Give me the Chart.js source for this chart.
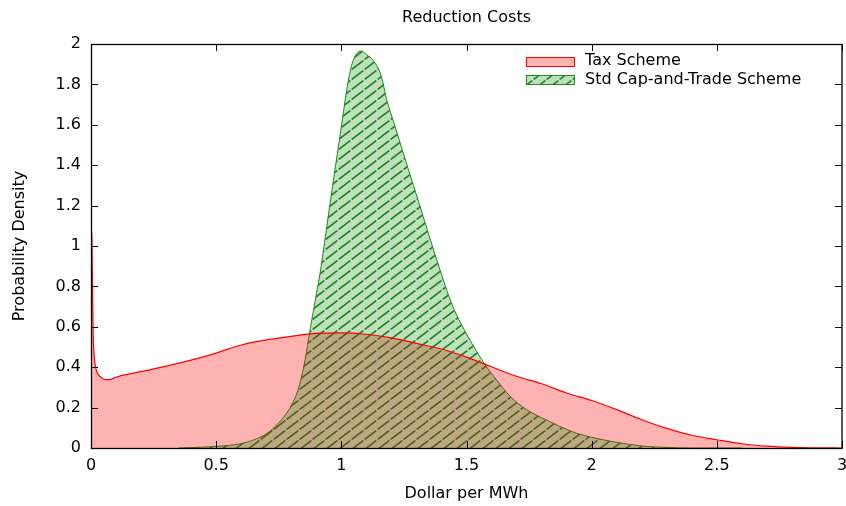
<!DOCTYPE html>
<html>
<head>
<meta charset="utf-8">
<script src="https://cdn.jsdelivr.net/npm/chart.js@4.4.1/dist/chart.umd.min.js"></script>
<style>
  html, body { margin: 0; padding: 0; background: #fff; }
  #wrap { width: 846px; height: 506px; }
</style>
</head>
<body>
<div id="wrap"><canvas id="c" width="846" height="506"></canvas></div>
<script>
// Probability density of reduction cost (dollar per MWh) under each scheme
const taxX = [0, 0.003, 0.006, 0.009, 0.013, 0.02, 0.04, 0.06, 0.08, 0.1, 0.12, 0.2, 0.3, 0.4, 0.5, 0.6, 0.7, 0.8, 0.9, 1.0,
              1.1, 1.2, 1.3, 1.4, 1.5, 1.6, 1.7, 1.8, 1.9, 2.0, 2.1, 2.2, 2.3, 2.4, 2.5, 2.6, 2.7, 2.8, 2.9, 3.0];
const taxY = [1.08, 1.06, 0.8, 0.55, 0.45, 0.39, 0.35, 0.338, 0.34, 0.35, 0.358, 0.378, 0.405, 0.435, 0.47, 0.51, 0.535, 0.553, 0.567, 0.57,
              0.563, 0.545, 0.518, 0.49, 0.45, 0.402, 0.355, 0.318, 0.272, 0.235, 0.19, 0.14, 0.097, 0.063, 0.041, 0.021, 0.009, 0.003, 0.001, 0];

const capX = [0.35, 0.4, 0.5, 0.55, 0.6, 0.65, 0.7, 0.75, 0.8, 0.83, 0.855, 0.875, 0.9, 0.915, 0.94, 0.97, 1.0, 1.02, 1.04, 1.06,
              1.08, 1.1, 1.13, 1.16, 1.18, 1.21, 1.24, 1.27, 1.306, 1.336, 1.366, 1.4, 1.43, 1.46, 1.5, 1.53, 1.567, 1.6, 1.62,
              1.674, 1.74, 1.8, 1.834, 1.9, 1.94, 2.0, 2.1, 2.2, 2.3, 2.4, 2.6];
const capY = [0, 0.002, 0.008, 0.013, 0.022, 0.04, 0.07, 0.125, 0.21, 0.3, 0.436, 0.584, 0.76, 0.865, 1.08, 1.34, 1.59, 1.76, 1.89, 1.95,
              1.965, 1.948, 1.915, 1.84, 1.73, 1.61, 1.49, 1.37, 1.23, 1.11, 0.99, 0.86, 0.75, 0.66, 0.565, 0.5, 0.425, 0.368, 0.337,
              0.256, 0.19, 0.15, 0.13, 0.092, 0.073, 0.053, 0.028, 0.01, 0.003, 0, 0];

const seriesLabels = ['Tax Scheme', 'Std Cap-and-Trade Scheme'];
const xRange = [0, 3], xStep = 0.5;
const yRange = [0, 2], yStep = 0.2;

const FONT = 'DejaVu Sans';
const FONT_SIZE = 16;
const TAX_LINE = '#ff0000';
const TAX_FILL = 'rgba(255,0,0,0.3)';
const CAP_LINE = '#228b22';
const CAP_WASH = 'rgba(0,128,0,0.25)';

// Diagonal stripes; withWash adds the translucent green underneath
function makeHatch(withWash) {
  const w = 13, h = 10;
  const c = document.createElement('canvas');
  c.width = w; c.height = h;
  const g = c.getContext('2d');
  if (withWash) {
    g.fillStyle = CAP_WASH;
    g.fillRect(0, 0, w, h);
  }
  g.strokeStyle = CAP_LINE;
  g.lineWidth = 1.6;
  g.beginPath();
  const gap = 0.7;
  g.moveTo(gap, h - gap * h / w);
  g.lineTo(w - gap, gap * h / w);
  g.stroke();
  return g.createPattern(c, 'repeat');
}
const capStripes = makeHatch(false);
const capKey = makeHatch(true);

const pts = (xs, ys) => xs.map((x, i) => ({ x, y: ys[i] }));
const fmt = v => String(Math.round(v * 10) / 10);

// Border box with inward ticks on all four sides
const framePlugin = {
  id: 'frame',
  afterDatasetsDraw(chart) {
    const { ctx, chartArea: { left, right, top, bottom }, scales: { x, y } } = chart;
    const L = 7;
    ctx.save();
    ctx.strokeStyle = '#000';
    ctx.lineWidth = 1;
    ctx.beginPath();
    x.ticks.forEach(t => {
      const p = Math.round(x.getPixelForValue(t.value)) + 0.5;
      ctx.moveTo(p, bottom); ctx.lineTo(p, bottom - L);
      ctx.moveTo(p, top); ctx.lineTo(p, top + L);
    });
    y.ticks.forEach(t => {
      const p = Math.round(y.getPixelForValue(t.value)) + 0.5;
      ctx.moveTo(left, p); ctx.lineTo(left + L, p);
      ctx.moveTo(right, p); ctx.lineTo(right - L, p);
    });
    ctx.stroke();
    ctx.lineWidth = 1.3;
    ctx.strokeRect(Math.round(left) + 0.5, Math.round(top) + 0.5, Math.round(right - left) - 0.5, Math.round(bottom - top));
    ctx.restore();
  }
};

// Key in the upper right of the plot
const keyPlugin = {
  id: 'key',
  afterDraw(chart) {
    const ctx = chart.ctx;
    const items = [
      { label: seriesLabels[0], fill: TAX_FILL, stroke: TAX_LINE },
      { label: seriesLabels[1], fill: capKey, stroke: CAP_LINE }
    ];
    const x0 = 526, bw = 48, bh = 9, textX = 585, yc = [61, 79.5];
    ctx.save();
    ctx.font = FONT_SIZE + 'px "' + FONT + '"';
    ctx.textBaseline = 'middle';
    items.forEach((it, i) => {
      const yTop = Math.round(yc[i] - bh / 2);
      ctx.fillStyle = it.fill;
      ctx.fillRect(x0, yTop, bw, bh);
      ctx.strokeStyle = it.stroke;
      ctx.lineWidth = 1;
      ctx.strokeRect(x0 + 0.5, yTop + 0.5, bw, bh);
      ctx.fillStyle = '#000';
      ctx.fillText(it.label, textX, yc[i]);
    });
    ctx.restore();
  }
};

Chart.defaults.font.family = FONT;
Chart.defaults.font.size = FONT_SIZE;
Chart.defaults.color = '#000';

const common = { pointRadius: 0, cubicInterpolationMode: 'monotone' };

new Chart(document.getElementById('c'), {
  type: 'line',
  data: {
    // index 0 is painted last (on top)
    datasets: [
      Object.assign({ label: seriesLabels[0], data: pts(taxX, taxY), borderColor: TAX_LINE, borderWidth: 1.2, fill: false }, common),
      Object.assign({ label: seriesLabels[1], data: pts(capX, capY), borderColor: 'transparent', borderWidth: 0,
                      backgroundColor: CAP_WASH, fill: 'origin' }, common),
      Object.assign({ label: seriesLabels[0], data: pts(taxX, taxY), borderColor: 'transparent', borderWidth: 0,
                      backgroundColor: TAX_FILL, fill: 'origin' }, common),
      Object.assign({ label: seriesLabels[1], data: pts(capX, capY), borderColor: CAP_LINE, borderWidth: 1,
                      backgroundColor: capStripes, fill: 'origin' }, common)
    ]
  },
  options: {
    responsive: false,
    animation: false,
    layout: { padding: { left: 0, right: 4, top: 0, bottom: 0 } },
    plugins: {
      legend: { display: false },
      tooltip: { enabled: false },
      title: {
        display: true,
        text: 'Reduction Costs',
        fullSize: false,
        font: { size: FONT_SIZE, weight: 'normal' },
        color: '#000',
        padding: { top: 8, bottom: 16.8 }
      }
    },
    scales: {
      x: {
        type: 'linear',
        min: xRange[0], max: xRange[1],
        grid: { display: false, drawTicks: false },
        border: { display: false },
        ticks: { stepSize: xStep, padding: 8, maxRotation: 0, callback: fmt },
        title: { display: true, text: 'Dollar per MWh', padding: { top: 0, bottom: 2.5 } },
        afterFit(s) { s.height = 58; s.paddingLeft = 0; s.paddingRight = 0; }
      },
      y: {
        min: yRange[0], max: yRange[1],
        grid: { display: false, drawTicks: false },
        border: { display: false },
        ticks: { stepSize: yStep, padding: 10, callback: fmt },
        title: { display: true, text: 'Probability Density', padding: { top: 10.5, bottom: 0 } },
        afterFit(s) { s.width = 91; s.paddingTop = 0; s.paddingBottom = 0; }
      }
    }
  },
  plugins: [framePlugin, keyPlugin]
});
</script>
</body>
</html>
